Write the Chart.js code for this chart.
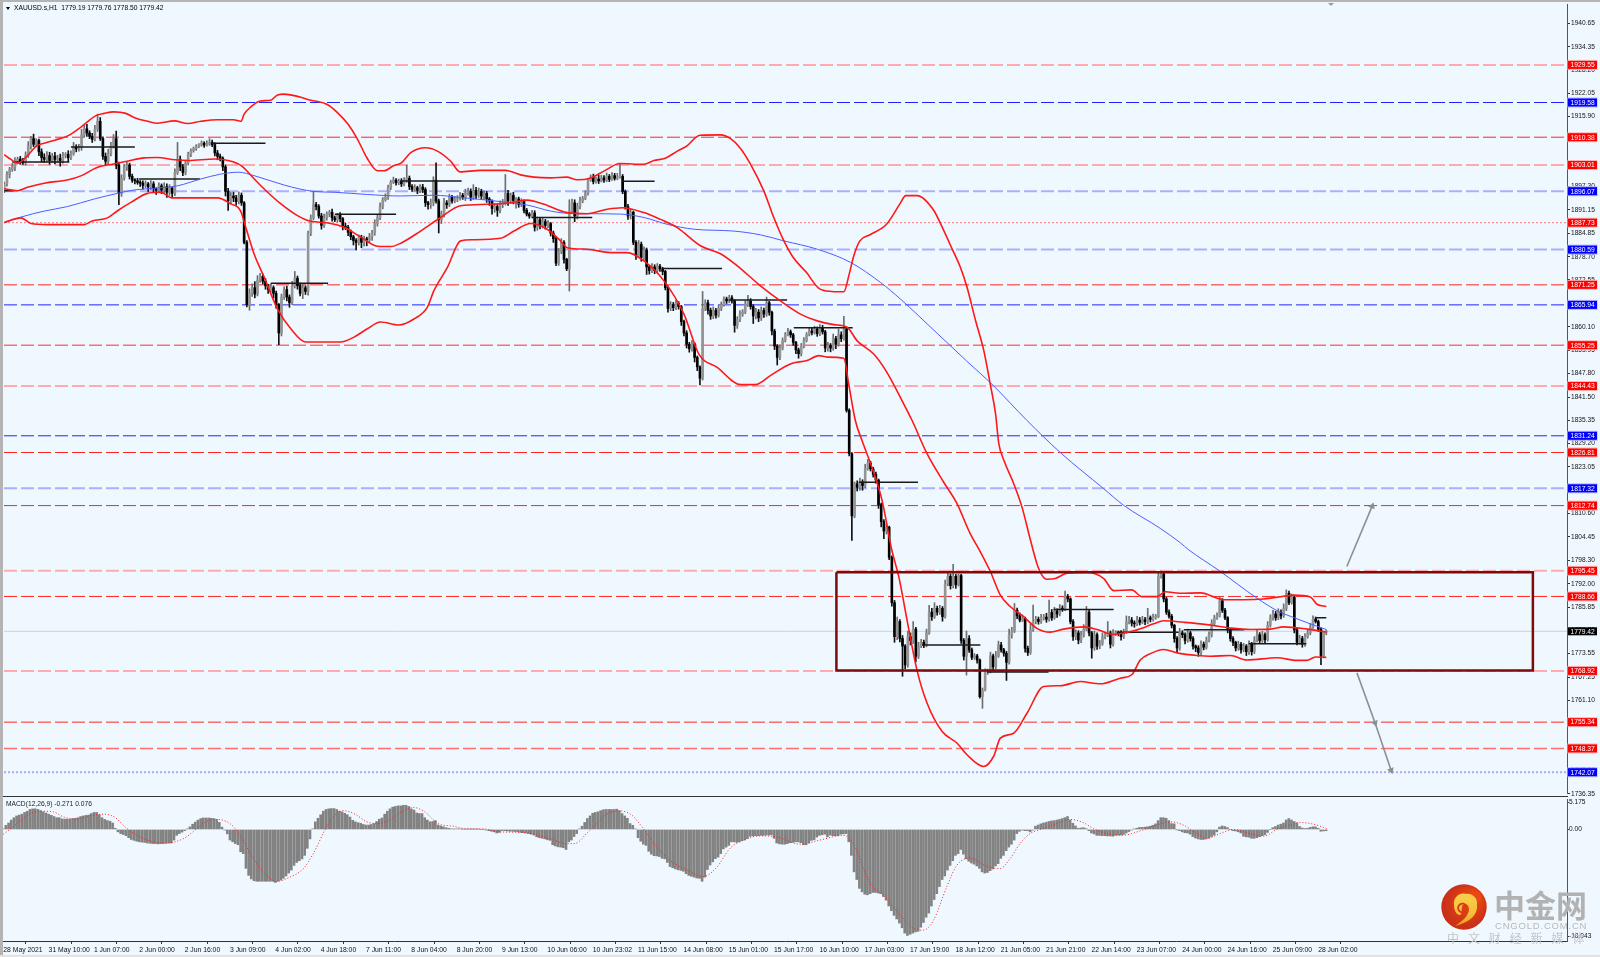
<!DOCTYPE html>
<html>
<head>
<meta charset="utf-8">
<title>XAUUSD.s,H1</title>
<script src="https://cdn.jsdelivr.net/npm/chart.js@4"></script>
<style>
  html, body { margin: 0; padding: 0; background: #f0f8ff; overflow: hidden; }
  body { width: 1600px; height: 957px; position: relative; }
  canvas { position: absolute; left: 0; }
  #priceChart { top: 0; }
  #macdChart { top: 797px; }
  .edge { position: absolute; background: #b4b4b4; }
  #edgeTop { left: 0; top: 0; width: 1600px; height: 2px; }
  #edgeLeft { left: 0; top: 0; width: 3px; height: 957px; }
  #edgeBottom { left: 0; top: 955px; width: 1600px; height: 2px; background: #e2e2e2; }
</style>
</head>
<body>
<canvas id="priceChart" width="1600" height="797"></canvas>
<canvas id="macdChart" width="1600" height="160"></canvas>
<div class="edge" id="edgeTop"></div>
<div class="edge" id="edgeLeft"></div>
<div class="edge" id="edgeBottom"></div>
<script>
const header = 'XAUUSD.s,H1  1779.19 1779.76 1778.50 1779.42';
const macdTitle = 'MACD(12,26,9) -0.271 0.076';

// hourly closes, one per bar
const closes = [
  1898.0,1900.5,1901.8,1902.5,1904.0,1904.6,1904.0,1903.6,1905.5,1908.0,
  1910.0,1908.5,1909.5,1906.5,1905.0,1904.5,1905.5,1904.2,1905.4,1904.5,
  1904.8,1904.2,1905.5,1905.8,1904.9,1906.0,1907.8,1907.3,1907.6,1911.0,
  1912.6,1911.5,1910.6,1909.8,1912.5,1914.6,1910.0,1905.3,1904.0,1906.0,
  1908.0,1910.0,1903.0,1895.5,1899.5,1902.5,1903.0,1900.0,1899.0,1898.8,
  1898.4,1898.2,1897.6,1898.0,1897.2,1898.0,1896.7,1896.3,1897.5,1896.4,
  1897.3,1895.8,1896.9,1895.5,1901.0,1904.5,1902.5,1901.0,1903.5,1905.8,
  1906.8,1907.4,1907.9,1908.4,1908.8,1908.3,1908.6,1909.0,1908.4,1906.2,
  1905.3,1904.8,1902.5,1896.0,1893.5,1894.8,1894.3,1893.3,1895.0,1893.0,
  1882.5,1866.0,1869.0,1870.5,1868.8,1872.5,1873.5,1872.2,1871.0,1870.0,
  1870.5,1869.0,1866.0,1858.5,1868.0,1870.0,1868.0,1866.5,1871.0,1873.0,
  1871.0,1869.0,1870.5,1869.5,1885.0,1889.0,1892.5,1892.0,1889.5,1887.0,
  1889.0,1890.0,1890.5,1889.0,1888.5,1889.8,1888.8,1886.8,1886.5,1885.2,
  1884.0,1883.0,1882.5,1883.8,1882.5,1883.4,1883.2,1884.0,1885.0,1887.5,
  1889.0,1892.0,1893.8,1894.5,1897.0,1898.5,1899.0,1898.3,1898.8,1898.0,
  1899.0,1899.5,1897.3,1896.6,1897.0,1896.3,1897.2,1896.5,1893.0,1892.5,
  1893.0,1899.0,1893.5,1888.5,1890.0,1893.0,1892.5,1894.5,1893.5,1894.0,
  1894.3,1895.0,1894.4,1895.6,1896.0,1894.5,1896.3,1895.0,1896.0,1894.8,
  1895.5,1894.0,1893.5,1891.5,1892.0,1891.0,1892.5,1893.0,1895.5,1893.5,
  1895.0,1893.6,1894.0,1892.6,1893.5,1891.0,1890.0,1889.5,1890.3,1886.5,
  1888.5,1887.0,1888.0,1887.0,1887.5,1885.0,1883.5,1877.0,1880.0,1882.5,
  1878.0,1875.5,1890.8,1893.0,1889.5,1892.0,1893.5,1894.2,1895.5,1899.0,
  1899.8,1898.6,1899.3,1898.8,1899.6,1899.0,1900.0,1899.2,1900.2,1899.5,
  1899.8,1900.0,1896.0,1892.0,1889.5,1890.5,1882.5,1879.0,1882.0,1878.5,
  1880.5,1876.0,1875.0,1876.0,1875.0,1876.2,1875.5,1874.8,1870.5,1865.0,
  1866.0,1865.2,1866.3,1865.5,1861.5,1858.5,1855.5,1854.3,1855.6,1852.0,
  1849.5,1846.5,1865.0,1866.5,1864.5,1863.0,1864.5,1863.2,1865.0,1866.0,
  1867.5,1867.0,1867.8,1867.0,1860.5,1862.0,1863.5,1864.0,1866.0,1867.0,
  1865.5,1863.0,1864.0,1862.5,1864.5,1863.5,1866.5,1864.0,1859.0,1855.0,
  1852.0,1854.5,1856.5,1858.0,1858.8,1858.0,1856.0,1854.0,1853.0,1855.0,
  1856.5,1858.0,1859.0,1858.6,1859.5,1858.3,1859.8,1858.8,1854.5,1855.2,
  1854.5,1857.0,1855.5,1858.0,1857.0,1859.5,1838.0,1826.5,1810.0,1818.5,
  1817.6,1819.0,1818.0,1822.5,1824.0,1822.5,1821.0,1819.5,1813.0,1808.5,
  1806.0,1807.0,1799.0,1787.0,1778.0,1782.0,1777.5,1775.5,1770.5,1778.0,
  1777.0,1780.0,1772.8,1775.5,1776.5,1775.8,1779.0,1784.5,1783.3,1785.5,
  1784.5,1785.5,1783.3,1792.0,1794.0,1791.5,1794.0,1791.8,1794.2,1777.0,
  1772.8,1777.5,1774.5,1772.5,1772.9,1771.8,1762.1,1763.9,1768.5,1768.8,
  1772.9,1770.0,1772.9,1775.8,1774.5,1773.6,1771.2,1778.5,1779.5,1785.0,
  1783.5,1782.4,1782.9,1774.9,1773.8,1779.8,1782.0,1782.6,1782.0,1783.0,
  1783.2,1782.6,1784.4,1783.0,1784.8,1784.0,1785.5,1785.3,1788.6,1788.0,
  1782.0,1778.0,1779.0,1777.1,1778.4,1780.0,1784.5,1779.0,1775.0,1778.5,
  1775.5,1776.2,1778.0,1778.4,1779.0,1776.0,1778.9,1779.0,1778.9,1778.0,
  1779.2,1782.0,1782.4,1781.6,1781.4,1782.4,1781.8,1782.5,1782.0,1783.0,
  1782.6,1783.2,1783.3,1794.0,1794.6,1788.0,1784.5,1783.4,1781.0,1777.5,
  1775.0,1779.0,1778.5,1777.0,1779.0,1777.5,1775.5,1775.0,1773.8,1776.0,
  1775.2,1777.0,1778.5,1781.5,1783.0,1783.5,1787.5,1785.0,1783.0,1779.8,
  1777.5,1776.5,1775.0,1776.0,1774.5,1775.5,1774.0,1776.0,1774.0,1777.0,
  1778.5,1777.0,1778.5,1777.2,1781.0,1783.0,1784.0,1783.0,1784.5,1783.5,
  1785.5,1789.5,1787.0,1788.5,1779.8,1776.5,1777.5,1776.0,1778.0,1779.0,
  1780.5,1782.7,1782.0,1780.0,1772.8,1779.19,1779.42
];
const firstOpen = 1896.5;

// wick lengths above and below each candle body
const upWicks = [
  .5,.8,.6,.9,1.0,.5,.7,.8,1.0,1.2, .6,1.2,.5,.4,.8,1.0,1.1,.9,.7,1.0,
  .8,1.1,.9,.5,1.0,.8,1.2,.6,.9,1.5, .9,1.2,.6,.8,1.0,1.9,1.0,.5,.9,1.2,
  1.0,1.1,2.0,.8,.9,.6,.7,.5,.6,.4, .7,.5,.6,.8,.4,.9,.6,.3,.8,.5,
  1.0,.7,.9,.3,1.0,4.5,.9,.7,.8,.6, .5,.4,.5,.3,.6,.4,.8,1.0,.6,.5,
  .7,.6,.4,.5,.8,.9,1.0,.7,.9,.6, .3,.5,1.2,1.0,1.6,1.2,.8,.6,.7,.4,
  1.0,.5,.6,.3,.8,.7,.9,.6,1.2,1.8, .6,.7,.8,.5,.5,.8,3.5,.6,.5,.7,
  1.0,.6,.5,.8,.5,.4,.6,.3,.8,.5, .6,.4,.5,.7,.6,.8,.5,.9,.7,1.0,
  .8,1.0,.6,.9,.7,.5,.8,.4,.5,.6, .7,3.5,.6,.5,.8,.4,.6,.7,.5,.4,
  1.0,.9,4.6,.5,.8,1.2,.6,.8,.5,.7, .6,.8,.5,1.0,.9,.7,1.5,.8,.9,.6,
  .7,.5,.4,.3,.8,.6,1.0,.9,5.0,.8, .6,.8,.4,.5,.6,.3,.5,.4,.7,.6,
  .7,.5,.9,.6,.8,.3,.5,.4,.9,1.0, .5,.3,3.0,1.0,.8,.9,1.0,.5,.7,.5,
  .6,.8,.5,1.0,.7,.6,.9,.5,.8,.6, 1.0,3.2,.5,.4,.6,.8,.3,.5,1.0,.6,
  .8,.5,.4,.9,.6,.7,.5,.4,.3,.5, .8,.6,.9,.5,.3,.4,.6,.5,.9,.3,
  .4,.3,4.5,.8,.7,.6,.9,.5,.8,.7, .6,.5,.7,.6,.3,.8,.9,.7,1.0,1.5,
  .6,.5,1.0,.7,.9,.6,1.5,.4,.3,.5, .4,.8,.7,.6,.9,.5,.4,.3,.5,.7,
  .8,.6,1.0,.7,.8,.6,.9,.7,.4,.8, .5,1.2,.6,1.5,.8,3.4,.3,.4,.3,.5,
  .8,1.0,.6,1.2,1.0,.5,.4,.6,.3,.4, .5,.8,.3,.4,.6,1.2,.5,.8,.4,1.5,
  1.0,2.0,.5,1.0,.8,.6,1.0,1.8,1.0,1.5, .6,.8,.5,1.0,.9,.6,3.2,.5,.4,.3,
  .5,2.0,.8,.5,.6,.4,.3,.5,1.0,.6, 1.0,.5,1.2,1.0,.7,.4,.5,1.5,1.0,1.8,
  .6,.8,.9,.3,.6,1.5,4.4,.8,.6,.9, .7,1.0,3.3,.8,1.0,.6,1.0,.7,1.5,.6,
  .3,.5,.8,.6,1.0,1.2,1.5,.5,.4,1.0, .5,.8,1.0,.7,3.0,.5,1.0,.6,.5,.7,
  .8,1.5,1.0,.7,.6,1.0,.7,.9,.6,2.5, .5,.8,.6,1.0,.8,.5,.4,.6,.5,.3,
  .5,1.2,.6,.5,1.0,.4,.5,.3,.6,.9, .6,.9,.8,1.0,.7,.8,1.2,.6,.5,.3,
  .4,.5,.3,.8,.5,.7,.4,.9,.5,1.0, 1.2,.6,.9,.5,1.0,.8,1.0,.7,.9,.6,
  1.2,.9,.6,.8,.3,.5,.9,.6,.8,.7, 1.0,.8,.5,.4,.3,.2,.34
];
const downWicks = [
  .8,.6,.9,.5,1.0,.7,.8,.4,.6,.5, .8,.6,.7,1.0,1.2,.8,.6,1.0,.5,1.2,
  .9,1.5,.7,.6,1.0,.5,.4,.8,.6,.7, .5,.9,.6,.8,.4,.6,.5,.8,1.0,.7,
  .6,.5,1.0,3.0,.8,.5,.9,.7,.6,.8, .5,.9,1.0,.6,1.2,.7,.9,1.1,.6,1.0,
  .7,1.4,.8,1.2,.6,.5,1.0,.8,.6,.5, .6,.4,.5,.3,.4,.6,.3,.4,.5,.8,
  .9,.7,1.0,1.2,2.5,.8,1.0,.9,.6,.7, .4,.6,1.5,.8,1.0,.5,.6,.7,.9,1.0,
  .7,1.2,.9,3.1,.8,.6,1.0,1.2,.5,.6, .9,.7,1.4,.8,1.0,.7,.5,.9,.6,1.0,
  .5,.6,.7,.9,.5,.6,.8,1.0,.6,.9, .8,1.2,2.0,.7,1.4,1.0,1.6,.8,1.0,.6,
  .7,.5,.6,.4,.6,.5,.4,.6,.5,.7, .5,.6,.8,.6,.5,.9,.6,.8,1.0,1.2,
  1.0,.8,.6,3.5,1.0,.8,1.0,.5,.6,.5, .7,.6,.5,.8,.6,.9,.7,1.0,.6,.8,
  1.0,.9,1.2,1.5,1.0,1.6,.7,.8,.6,1.2, .7,.9,2.0,.8,.6,.7,.5,.6,.5,1.0,
  .8,.9,.7,1.0,.6,.8,1.0,.7,.6,.5, 1.0,.5,5.9,.5,1.5,.8,.6,.5,.4,.5,
  .3,.6,.4,.7,.3,.6,.4,.6,.3,.5, .4,.3,.6,.7,.9,.8,.6,1.0,.5,1.0,
  .8,2.0,.9,.5,.8,.6,.7,.9,.6,1.0, .6,.8,.5,.7,1.0,.8,1.0,.9,.6,1.2,
  1.0,1.8,.5,.6,1.0,.9,.7,.8,.5,.6, .4,.7,.5,.6,1.8,.8,.5,.6,.4,.5,
  .7,2.0,.8,1.0,.7,.9,.6,.8,1.0,.9, 2.0,.6,.5,.4,.3,.7,.8,1.0,1.2,.6,
  .5,.4,.3,.6,.4,.7,.5,.6,1.0,.8, 1.0,.6,1.2,.5,.8,.4,.5,.6,6.5,.5,
  1.0,.8,1.2,.5,.4,.6,.7,.8,1.0,1.4, 2.0,.8,.6,.9,1.5,.8,.9,8.0,1.0,.6,
  1.2,.8,1.5,.6,.4,.7,.5,.4,1.0,.5, .8,.6,1.2,.4,.5,.9,.6,1.0,.4,.8,
  1.0,5.0,.7,.6,.5,.8,.4,3.1,.3,.5, .4,.8,.5,.4,.6,.8,4.8,.5,.9,.4,
  .7,.5,.4,1.0,.8,.5,.4,.6,.7,.5, .6,.8,.5,.7,.4,.9,.5,.6,.4,.8,
  .6,1.0,.8,1.0,.7,.5,.4,.8,2.7,.6, .9,.7,.5,.6,.4,1.0,.5,.6,.7,.9,
  .5,.4,.6,.8,.9,.5,.7,.4,.8,.6, .7,.5,.6,.3,.5,.8,.6,.5,.7,1.0,
  1.0,.6,.8,.9,.5,.7,.8,1.0,1.0,.6, .7,.5,.4,.6,.5,.4,.3,.6,.5,.8,
  .7,.9,.8,.6,.9,.5,1.0,.7,.9,.5, .4,.6,.5,.8,.4,.5,.6,.7,.5,.8,
  .4,.6,.5,.4,.8,.7,.5,.8,.6,.4, .5,.3,.4,.6,2.2,.4,.69
];

// Bollinger bands and moving average, read at bends of each curve
const upperBars = [0,2.5,5,8.75,12,15,19,24,29,34.4,37.5,41,45.6,49.4,53.8,57.5,63.8,68.8,73.8,80,86,88.8,90,92.5,96,100,102.5,105,110,115,121,125,129,132.5,136,140,142.5,146,149,152.5,158,162.5,167.5,171,178.7,188,193.7,198.7,205,211,215,220,225,231,240,243.7,248,252.5,256,261,268.7,272.5,276,280,285,288.7,292.5,296,301,305.5,310.5,315,317,318.7,321,325,331,336.2,338.2,342.5,348.8,351.3,355.6,358.7,361.2,364.4,367.5,370,371.9,373.1,375,378.7,381.8,385,387.4,389.3,391.2,394.3,398.7,406.2,412.5,416.2,423,426.8,432.5,435.6,441,448.8,457.5,465,472.5,480,483.8,490,492.5,496];
const upperBand = [1905.75,1904.5,1903.5,1905.5,1908,1908.8,1909.6,1910.8,1913.2,1916.1,1916.7,1917.1,1916.7,1915.4,1914.6,1914.1,1914.7,1914,1914.6,1915,1915,1914.6,1916.5,1918.4,1920,1920.2,1921.6,1921.8,1921.2,1920.2,1919.1,1916.9,1913.8,1909.9,1905,1901.5,1901.5,1902.8,1903.6,1906.3,1907.6,1906.7,1904,1901.2,1901.6,1901.6,1900.4,1899.8,1899.6,1899.8,1899.1,1899.6,1901.4,1903.4,1903.2,1904.2,1904.8,1906.7,1908,1910.9,1911,1910,1907.6,1903.2,1896.1,1889.1,1882.9,1878.5,1874.5,1870.4,1869.5,1869.4,1874.1,1878.9,1882.9,1884.6,1887.3,1892.9,1894.9,1894.9,1890.9,1887.4,1880.8,1875.9,1870.6,1861.8,1853.8,1844.6,1837.1,1829.3,1824.8,1818.6,1812.4,1803.6,1797.4,1794.3,1793.2,1793.4,1794.8,1795,1793.4,1790.2,1790.4,1788.6,1788.6,1789.9,1789.5,1789.6,1787.8,1787.8,1788,1788.7,1789,1788.5,1786.6,1786];

const middleBars = [0,5,8.75,15,24,29,35,41,46,52.5,57.5,64,69,79,84,89,93.8,98.8,103.8,110,115,121,127.5,133.8,140,145,148.8,156.2,163.7,171.2,181.2,190,196.2,202.5,211.2,218.7,226.2,231.8,240,246.2,252.5,261.2,268.7,275,283.7,291.2,298.7,305,311.2,316.2,320,326.2,331.2,336.2,340.6,346.2,352.4,357.4,362.4,366.2,370,373.7,377.4,382.4,387.4,392.4,397.4,405,410,416.2,425,431.2,435,442.5,451.2,460,467.5,475,480,488.8,496];
const middleBand = [1896.7,1896.2,1897.1,1898.2,1899.1,1900.2,1902.4,1903.3,1904,1904.9,1905,1904.4,1904.2,1904.6,1904.2,1902.8,1899.3,1895.8,1892.7,1889.6,1888.1,1887.7,1886.5,1883.9,1881.5,1881.4,1882.3,1885.5,1889.1,1892.2,1892.6,1893,1893.7,1892.6,1890.4,1890.1,1891.3,1891.7,1890.4,1888.6,1886.4,1881.6,1879.5,1876.3,1871,1867,1863.5,1861.7,1860.7,1860,1856.4,1852.9,1848,1841.4,1835.3,1826.5,1819,1813.3,1805.3,1800.5,1795.2,1789,1786,1783.3,1780.2,1779.2,1780,1780.6,1779.9,1778.6,1779.8,1781.4,1782.2,1781.8,1781.2,1780.3,1779.9,1780,1780.6,1780,1779.2];

const lowerBars = [0,6.25,10,16.2,30,33,38.7,42.5,47.5,53.7,58.7,63,80,85,88.7,90.6,93.7,97.5,102.5,107.5,113,126.2,131.2,136.2,141.2,148,153.7,158.7,161.2,166.2,171.2,175.6,186.2,191.2,197.5,203.7,208.7,211.2,218.7,227.5,233.7,240,247.5,255,260.6,267.5,276.2,281.8,287.4,294.9,301.2,305.6,308.7,315,316.8,319.3,321.8,325,329.3,333,335.6,338.7,342.4,346.2,351.8,357.4,361.2,367.4,371.2,373.7,378.7,383.7,390,396.2,403.7,411.2,418.7,423,426.2,430,435,440,447.5,452.5,460,466.2,477.5,485,488.7,491.9,496];
const lowerBand = [1887.8,1889,1887.5,1887.2,1887.2,1888.2,1889,1890.9,1893.1,1895.5,1895.8,1894.3,1894.3,1892.7,1890.8,1886.5,1879.5,1873.3,1864.9,1859.6,1856.1,1856.1,1857.4,1859.6,1861.4,1860.6,1862.2,1865.3,1869.7,1875.8,1882.9,1883.2,1883.6,1885.5,1887.5,1886,1882.9,1881.1,1880.7,1879.8,1879.8,1877.6,1872.3,1863.5,1852.9,1849.4,1844.8,1844.8,1847.2,1850.3,1851.2,1852.5,1852.1,1851.8,1845,1835.3,1830,1823.9,1814.2,1800.9,1793.9,1782.4,1769.2,1760.4,1752.9,1749.8,1746.7,1743.6,1746.3,1751.1,1752.4,1757.7,1764.8,1765,1766.1,1765.5,1767,1767.9,1771.8,1773.5,1774.6,1773.7,1773,1772.8,1773,1771.8,1772.4,1771.7,1771.7,1772.6,1772.5];

const maBars = [0,6.2,15,23.7,33.7,42.5,48.7,57.5,65,73.7,81.2,88,93.7,105,116.2,123.7,136.2,148.7,161.2,171.2,183.7,196.2,205,211.2,220,231.2,240,248.7,258.7,273.7,283.7,292.5,305,317.5,328.7,336.2,350,361,371,383.7,396.2,412.5,420,433.7,441.2,444.4,455.6,470,478,482.5,490,496];
const maValues = [1887.7,1889.2,1890.8,1892,1894,1895.5,1896.4,1896.9,1897.5,1899.3,1900.6,1901.1,1900.2,1897.7,1896,1895.8,1895.2,1894.8,1895,1894.4,1893.5,1892.4,1890.8,1890.2,1890.1,1890,1889.1,1887.3,1886,1885.5,1884.5,1882.9,1880.7,1877.2,1871.9,1867.5,1858.4,1851.1,1844.6,1835.3,1826.8,1817.2,1812.8,1806.7,1802.9,1801,1795.6,1788.2,1784.7,1783.4,1781.4,1779.9];

// short black price marks: first bar, last bar, price
const markStart = [0,3,25,50.6,77.5,100,124,148.7,198,231.8,247,271.8,296.2,320.6,344.3,368.7,393.7,417.4,442.5,466.9,491.9];
const markEnd = [3.5,24.4,49,73.4,98,121.5,147,171.6,220.6,244,269.3,293.7,318.3,342.8,366.2,391.8,416.2,440.6,465.2,488.5,496];
const markPrice = [1896.2,1903.8,1907.8,1899.3,1908.8,1871.7,1889.95,1898.8,1889.1,1898.7,1875.6,1867.2,1859.9,1818.9,1775.8,1768.6,1785.2,1779.2,1779.8,1776.1,1783];

// horizontal levels with their kinds
const levelPrices = [1929.55,1919.58,1910.38,1903.01,1896.07,1887.73,1880.59,1871.25,1865.94,1855.25,1844.43,1831.24,1826.81,1817.32,1812.74,1795.45,1788.66,1768.92,1755.34,1748.37,1742.07];
const levelKinds = ['pale','blue','red','pale','paleBlue','dotRed','paleBlue','red','blue','redLight','pale','blue','red','paleBlue','red','pale','red','pale','red','redLight','dotBlue'];
const lastPrice = 1779.42;

// range box and the two arrows
const boxBars = [312.2,573.5,573.5,312.2,312.2];
const boxPrices = [1795.1,1795.1,1769,1769,1795.1];
const arrowUpBars = [503.7,513.2];
const arrowUpPrices = [1796.6,1812.6];
const arrowDownBars = [507.5,514.3,520.3];
const arrowDownPrices = [1768.4,1755.1,1742.6];

const priceTicks = [1940.65,1934.35,1928.20,1922.05,1915.90,1909.60,1903.45,1897.30,1891.15,1884.85,1878.70,1872.55,1866.40,1860.10,1853.95,1847.80,1841.50,1835.35,1829.20,1823.05,1816.75,1810.60,1804.45,1798.30,1792.00,1785.85,1779.70,1773.55,1767.25,1761.10,1754.95,1748.80,1742.50,1736.35];
const timeLabels = ['28 May 2021','31 May 10:00','1 Jun 07:00','2 Jun 00:00','2 Jun 16:00','3 Jun 09:00','4 Jun 02:00','4 Jun 18:00','7 Jun 11:00','8 Jun 04:00','8 Jun 20:00','9 Jun 13:00','10 Jun 06:00','10 Jun 23:02','11 Jun 15:00','14 Jun 08:00','15 Jun 01:00','15 Jun 17:00','16 Jun 10:00','17 Jun 03:00','17 Jun 19:00','18 Jun 12:00','21 Jun 05:00','21 Jun 21:00','22 Jun 14:00','23 Jun 07:00','24 Jun 00:00','24 Jun 16:00','25 Jun 09:00','28 Jun 02:00'];
const timeBars = [0,17,34,51,68,85,102,119,136,153,170,187,204,221,238,255,272,289,306,323,340,357,374,391,408,425,442,459,476,493];

// MACD histogram, one per bar
const macdHist = [
  .1,.7,1.1,1.6,2.0,2.3,2.45,2.6,2.9,3.1, 3.4,3.5,3.5,3.4,3.2,3.0,2.8,2.6,2.4,2.2,
  2.0,2.0,1.8,1.75,1.75,1.75,1.85,1.9,2.0,2.2, 2.3,2.4,2.45,2.7,2.9,2.9,2.5,2.0,1.7,1.5,
  1.4,1.1,.2,-.4,-.7,-.85,-1.05,-1.4,-1.7,-1.85, -2.0,-2.1,-2.15,-2.2,-2.3,-2.35,-2.4,-2.4,-2.45,-2.4,
  -2.4,-2.35,-2.3,-2.3,-1.8,-1.0,-.7,-.45,-.2,.1, .45,.9,1.25,1.6,1.85,1.95,1.95,1.95,1.9,1.85,
  1.7,1.2,.4,-.1,-.75,-1.8,-2.1,-2.4,-2.6,-3.8, -4.1,-6.6,-7.8,-8.4,-8.7,-8.8,-8.8,-8.8,-8.8,-8.8,
  -8.8,-8.8,-9.0,-8.8,-8.6,-8.3,-7.9,-7.4,-6.9,-6.1, -5.6,-5.3,-5.0,-4.4,-3.2,-1.6,.1,1.3,1.9,2.5,
  3.1,3.4,3.5,3.55,3.55,3.4,3.1,3.0,2.75,2.5, 2.1,1.55,1.3,1.15,1.05,.85,.75,.75,.85,1.0,
  1.35,1.75,1.95,2.6,3.1,3.5,3.8,3.9,4.0,4.0, 4.1,4.1,3.9,3.5,3.3,2.8,2.7,2.7,2.0,1.6,
  1.3,1.35,1.5,.75,.6,.45,.3,.2,.1,.1, .1,.1,.05,.05,.05,.05,.05,.05,.05,0,
  0,-.1,-.2,-.3,-.4,-.6,-.5,-.2,-.2,-.25, -.3,-.3,-.35,-.4,-.5,-.55,-.6,-.7,-.8,-.95,
  -1.25,-1.4,-1.5,-1.6,-1.75,-1.85,-2.6,-2.8,-2.95,-3.0, -3.1,-3.4,-2.1,-1.8,-1.2,-.7,.1,.55,1.2,1.85,
  2.3,2.75,2.9,3.0,3.2,3.35,3.4,3.4,3.4,3.4, 3.45,3.2,2.7,2.3,1.9,1.0,.7,.1,-1.4,-2.0,
  -2.5,-2.7,-3.7,-4.2,-4.45,-4.5,-4.6,-4.9,-5.0,-5.6, -6.3,-6.5,-6.7,-6.85,-6.95,-7.1,-7.5,-7.8,-7.95,-8.1,
  -8.25,-8.3,-8.8,-8.1,-6.8,-6.05,-5.5,-4.95,-4.7,-4.1, -3.3,-3.0,-2.7,-2.1,-2.1,-2.2,-2.1,-1.9,-1.8,-1.55,
  -1.15,-1.1,-1.05,-1.05,-1.0,-1.0,-.95,-.95,-.9,-1.5, -2.3,-2.45,-2.5,-2.5,-2.4,-2.25,-2.2,-2.1,-2.1,-2.25,
  -2.6,-2.6,-2.3,-1.85,-1.75,-1.3,-1.0,-.9,-.8,-1.25, -.95,-1.05,-1.05,-1.05,-.8,-.75,-.7,-2.1,-4.4,-7.2,
  -8.5,-10,-10.6,-11,-11.1,-10.9,-10.7,-10.7,-10.8,-10.9, -11.4,-12,-13,-13.8,-14.6,-15.2,-15.9,-16.7,-17.6,-18,
  -17.8,-17.6,-17.4,-17.3,-16.6,-15.8,-14.9,-14.2,-13,-11.9, -10.9,-9.7,-8.5,-7.9,-6.9,-6.1,-5.3,-4.4,-4.1,-3.4,
  -4.2,-5.0,-5.4,-5.7,-5.9,-6.2,-6.6,-7.2,-7.4,-7.3, -7.0,-6.7,-6.2,-5.8,-4.9,-4.4,-3.6,-3.0,-2.5,-1.8,
  -.7,-.3,-.1,-.2,-.2,-.4,-.1,.55,.75,.95, 1.1,1.2,1.35,1.45,1.5,1.6,1.7,1.85,2.0,2.2,
  1.6,1.05,.6,.2,.25,.3,.15,-.2,-.6,-.75, -1.0,-1.0,-1.05,-1.05,-1.1,-1.1,-1.15,-1.0,-.95,-.95,
  -.85,-.6,-.35,-.1,.1,.2,.35,.35,.4,.45, .55,.7,.95,1.5,2.0,2.0,1.9,1.5,1.0,.95,
  -.05,-.2,-.4,-.55,-.6,-.8,-1.2,-1.45,-1.6,-1.7, -1.7,-1.6,-1.45,-1.2,-.95,-.4,.4,.6,.5,.3,
  0,-.2,-.25,-.4,-.6,-1.15,-1.25,-1.3,-1.5,-1.5, -1.4,-1.2,-1.05,-.9,-.5,0,.3,.5,.75,.9,
  1.1,1.6,1.85,1.6,1.35,1.1,.5,.25,.15,.2, .35,.45,.45,.2,-.3,-.25,-.2
];
const signalBars = [0,3.75,7.5,11.25,15,18.75,22.5,27.5,32.5,37.5,41.9,45.6,50,55,60,64.4,68.75,72.5,76.25,80,85,88.75,93,97.5,102.5,107.5,112.5,116.25,120.6,123.75,127.5,131.9,136.25,140,144.4,149.4,153.75,158,163,168.75,173.75,180,186.25,193.7,198.7,205,211.2,214.3,218.7,222.5,226.2,231.2,235.6,240,245,250,256.2,262.4,267.4,272.4,277.4,283.7,290,298.7,306.2,315,318.7,325,330,335,341.2,345,348.7,353.7,357.5,362.4,368.7,373.7,377.5,381.2,385,390,395,400,405,408.7,413.7,420,426.2,432.5,437.5,442.5,447.5,451.2,456.2,461.2,467.5,472.5,477.5,482.5,486.2,492.5,496.2];
const signalValues = [-.8,.45,1.9,2.9,3.1,3.0,2.15,1.75,2.3,2.6,2.05,.45,-.95,-1.95,-2.3,-2.1,-1.25,.15,1.4,1.7,1.0,-.95,-4.4,-7.25,-8.8,-8.1,-6.65,-4.1,-.1,2.15,3.2,2.6,1.3,1.0,1.5,3.0,3.75,3.0,1.0,.55,.1,.1,-.4,-.5,-.8,-1.55,-2.4,-2.4,-.7,1.0,2.6,3.15,2.45,.15,-3.0,-5.25,-6.85,-8.0,-6.5,-3.25,-1.8,-1.1,-1.25,-2.5,-1.8,-1.0,-2.4,-9.2,-11.2,-13.8,-16.75,-17.1,-15.5,-9.8,-6.1,-4.85,-6.25,-6.65,-4.95,-2.4,-.7,.15,1.0,1.7,1.15,.15,-.7,-.95,-.25,.75,1.3,.75,-.7,-1.55,-.7,0,-.7,-1.15,0,.75,1.2,.75,.15];
const macdTickBars = [4.65,0,-18.1];
const macdTickText = ['5.175','0.00','-18.943'];

// axis ranges
const barMin = -0.1, barMax = 586.3;
const priceMin = 1736.56, priceMax = 1945.69;
const macdMin = -18.943, macdMax = 5.175;

const tinyFont = { family: '"Liberation Sans", Arial, sans-serif', size: 6.6 };
const timeFont = { family: '"Liberation Sans", Arial, sans-serif', size: 6.8 };
const tinyCss = '6.7px "Liberation Sans", Arial, sans-serif';

const opens = closes.map((c, i) => i === 0 ? firstOpen : closes[i - 1]);
const barIndex = closes.map((c, i) => i);

const pairs = (xs, ys) => xs.map((x, k) => ({ x, y: ys[k] }));

const lineStyles = {
  red: { color: '#ff2424', width: 1, dash: [13, 4], tag: '#ff0000', halo: '#ffb4b4' },
  redLight: { color: '#ff6e6e', width: 1.5, dash: [13, 4], tag: '#ff0000', halo: '#ffb4b4' },
  pale: { color: '#ffaab0', width: 2, dash: [13, 4], tag: '#ff0000', halo: '#ffb4b4' },
  blue: { color: '#2222ff', width: 1, dash: [13, 4], tag: '#0000ff', halo: '#b4b4ff' },
  paleBlue: { color: '#aab0ff', width: 2, dash: [13, 4], tag: '#0000ff', halo: '#b4b4ff' },
  dotRed: { color: '#ff7a7a', width: 1, dash: [2, 2], tag: '#ff0000', halo: '#ffb4b4' },
  dotBlue: { color: '#a8a8ff', width: 2, dash: [2, 2], tag: '#0000ff', halo: '#b4b4ff' }
};

const levelDatasets = levelPrices.map((p, k) => ({
  type: 'line',
  data: [{ x: barMin, y: p }, { x: barMax, y: p }],
  borderColor: lineStyles[levelKinds[k]].color,
  borderWidth: lineStyles[levelKinds[k]].width,
  borderDash: lineStyles[levelKinds[k]].dash,
  pointRadius: 0,
  order: 8
}));

// one line with gaps between the price marks
const markPoints = [];
markStart.forEach((s, k) => {
  markPoints.push({ x: s, y: markPrice[k] }, { x: markEnd[k], y: markPrice[k] }, { x: markEnd[k] + 0.01, y: null });
});

function bandLine(bars, values, color, width, order) {
  return {
    type: 'line',
    data: pairs(bars, values),
    borderColor: color,
    borderWidth: width,
    pointRadius: 0,
    cubicInterpolationMode: 'monotone',
    order
  };
}

// tags on the right edge, header text and pane separator
const pricePanePlugin = {
  id: 'pricePane',
  afterDraw(chart) {
    const ctx = chart.ctx;
    const y = chart.scales.y;
    ctx.save();
    ctx.font = tinyCss;
    ctx.textBaseline = 'middle';

    levelPrices.forEach((p, k) => {
      const py = y.getPixelForValue(p);
      const style = lineStyles[levelKinds[k]];
      ctx.fillStyle = style.halo;
      ctx.fillRect(1567.5, py - 5, 30, 10);
      ctx.fillStyle = style.tag;
      ctx.fillRect(1568, py - 4, 29, 8);
      ctx.fillStyle = '#ffffff';
      ctx.fillText(p.toFixed(2), 1570.5, py + 0.5);
    });
    const ly = y.getPixelForValue(lastPrice);
    ctx.fillStyle = '#000000';
    ctx.fillRect(1568, ly - 4, 29, 8);
    ctx.fillStyle = '#ffffff';
    ctx.fillText(lastPrice.toFixed(2), 1570.5, ly + 0.5);

    ctx.fillStyle = '#000000';
    ctx.fillText(header, 14, 8.5);
    ctx.beginPath();
    ctx.moveTo(6, 7); ctx.lineTo(10, 7); ctx.lineTo(8, 10); ctx.closePath();
    ctx.fill();

    // small shift marker at the top
    ctx.fillStyle = '#9a9a9a';
    ctx.beginPath();
    ctx.moveTo(1328, 3); ctx.lineTo(1334, 3); ctx.lineTo(1331, 6); ctx.closePath();
    ctx.fill();

    ctx.fillStyle = '#333333';
    ctx.fillRect(3, 796, 1565, 2);
    ctx.restore();
  }
};

const macdPanePlugin = {
  id: 'macdPane',
  afterDraw(chart) {
    const ctx = chart.ctx;
    ctx.save();
    ctx.font = tinyCss;
    ctx.textBaseline = 'middle';
    ctx.fillStyle = '#222222';
    ctx.fillText(macdTitle, 6, 7.5);

    // watermark, in page coordinates
    ctx.translate(0, -797);
    const grad = ctx.createRadialGradient(1476, 896, 4, 1464, 907, 24);
    grad.addColorStop(0, '#ea4a10');
    grad.addColorStop(1, '#c62c1a');
    ctx.fillStyle = grad;
    ctx.beginPath();
    ctx.arc(1464, 907, 22.7, 0, Math.PI * 2);
    ctx.fill();

    // cloud swirl
    const gold = ctx.createLinearGradient(0, 893, 0, 926);
    gold.addColorStop(0, '#f9d24c');
    gold.addColorStop(0.65, '#f6bc3a');
    gold.addColorStop(1, '#ee9a1c');
    ctx.fillStyle = gold;
    ctx.beginPath();
    ctx.moveTo(1454, 905);
    ctx.bezierCurveTo(1453, 897, 1460, 892, 1466, 894);
    ctx.bezierCurveTo(1471, 893, 1478, 897, 1477, 905);
    ctx.bezierCurveTo(1478, 914, 1471, 922, 1455, 926);
    ctx.bezierCurveTo(1463, 921, 1469, 915, 1469, 909);
    ctx.bezierCurveTo(1469, 904, 1464, 903, 1462, 906);
    ctx.bezierCurveTo(1461, 911, 1463, 915, 1459, 915);
    ctx.bezierCurveTo(1456, 914, 1454, 910, 1454, 905);
    ctx.closePath();
    ctx.fill();
    ctx.strokeStyle = '#d8361a';
    ctx.lineWidth = 1.8;
    ctx.lineCap = 'round';
    ctx.beginPath();
    ctx.arc(1462.5, 908, 4.4, Math.PI * 0.55, Math.PI * 1.8);
    ctx.stroke();

    ctx.textBaseline = 'alphabetic';
    ctx.fillStyle = '#b2b2b2';
    ctx.font = 'bold 31px "Noto Sans CJK SC", sans-serif';
    ctx.fillText('中金网', 1494, 917);
    ctx.font = '9.5px "Liberation Sans", Arial, sans-serif';
    ctx.fillStyle = '#b8b8b8';
    ctx.letterSpacing = '0.8px';
    ctx.fillText('CNGOLD.COM.CN', 1495, 929);
    ctx.letterSpacing = '8.9px';
    ctx.font = '12px "Noto Sans CJK SC", sans-serif';
    ctx.fillStyle = '#c4c4c4';
    ctx.fillText('中文财经新媒体', 1447, 943);
    ctx.restore();
  }
};

new Chart(document.getElementById('priceChart'), {
  type: 'bar',
  data: {
    datasets: [
      ...levelDatasets,
      {
        type: 'line',
        data: [{ x: barMin, y: lastPrice }, { x: barMax, y: lastPrice }],
        borderColor: '#cfcfcf',
        borderWidth: 1,
        pointRadius: 0,
        order: 9
      },
      {
        data: barIndex.map(i => ({
          x: i,
          y: [Math.min(opens[i], closes[i]) - downWicks[i], Math.max(opens[i], closes[i]) + upWicks[i]]
        })),
        backgroundColor: barIndex.map(i => closes[i] >= opens[i] ? '#6e6e6e' : '#111111'),
        barThickness: 1,
        grouped: false,
        order: 7
      },
      {
        data: barIndex.map(i => ({ x: i, y: [opens[i], closes[i]] })),
        backgroundColor: barIndex.map(i => closes[i] >= opens[i] ? '#949494' : '#000000'),
        barThickness: 2,
        minBarLength: 1,
        grouped: false,
        order: 6
      },
      {
        type: 'line',
        data: markPoints,
        borderColor: '#1a1a1a',
        borderWidth: 1.5,
        pointRadius: 0,
        order: 5
      },
      bandLine(maBars, maValues, '#4c5cff', 1, 4),
      bandLine(upperBars, upperBand, '#ff1818', 1.6, 3),
      bandLine(middleBars, middleBand, '#ff1818', 1.6, 3),
      bandLine(lowerBars, lowerBand, '#ff1818', 1.6, 3),
      {
        type: 'line',
        data: pairs(boxBars, boxPrices),
        borderColor: '#7d0b0b',
        borderWidth: 2.5,
        pointRadius: 0,
        borderJoinStyle: 'miter',
        order: 2
      },
      {
        type: 'line',
        data: pairs(arrowUpBars, arrowUpPrices),
        borderColor: '#8f8f8f',
        borderWidth: 1.6,
        pointStyle: 'triangle',
        pointRadius: [0, 4],
        pointRotation: 22,
        pointBackgroundColor: '#8f8f8f',
        pointBorderWidth: 0,
        order: 1
      },
      {
        type: 'line',
        data: pairs(arrowDownBars, arrowDownPrices),
        borderColor: '#8f8f8f',
        borderWidth: 1.6,
        pointStyle: 'triangle',
        pointRadius: [0, 4, 4],
        pointRotation: 160,
        pointBackgroundColor: '#8f8f8f',
        pointBorderWidth: 0,
        order: 1
      }
    ]
  },
  options: {
    responsive: false,
    animation: false,
    events: [],
    layout: { padding: { left: 3, top: 3, right: 0, bottom: 1 } },
    plugins: { legend: { display: false }, tooltip: { enabled: false } },
    scales: {
      x: { type: 'linear', display: false, offset: false, min: barMin, max: barMax },
      y: {
        position: 'right',
        min: priceMin,
        max: priceMax,
        afterBuildTicks: s => { s.ticks = priceTicks.map(value => ({ value })); },
        afterFit: s => { s.width = 33; s.paddingTop = 0; s.paddingBottom = 0; },
        border: { color: '#555555', width: 1 },
        grid: { drawOnChartArea: false, drawTicks: true, tickLength: 3, color: '#333333' },
        ticks: {
          autoSkip: false,
          padding: 1,
          color: '#111111',
          font: tinyFont,
          callback: v => v.toFixed(2)
        }
      }
    }
  },
  plugins: [pricePanePlugin]
});

new Chart(document.getElementById('macdChart'), {
  type: 'bar',
  data: {
    datasets: [
      {
        data: pairs(barIndex, macdHist),
        backgroundColor: '#828282',
        barThickness: 2,
        order: 2
      },
      {
        type: 'line',
        data: pairs(signalBars, signalValues),
        borderColor: '#ff2020',
        borderWidth: 1,
        borderDash: [1, 2],
        pointRadius: 0,
        cubicInterpolationMode: 'monotone',
        order: 1
      }
    ]
  },
  options: {
    responsive: false,
    animation: false,
    events: [],
    layout: { padding: { left: 3, top: 2, right: 0, bottom: 0 } },
    plugins: { legend: { display: false }, tooltip: { enabled: false } },
    scales: {
      x: {
        type: 'linear',
        offset: false,
        min: barMin,
        max: barMax,
        afterBuildTicks: s => { s.ticks = timeBars.map(value => ({ value })); },
        afterFit: s => { s.height = 16; s.paddingLeft = 0; s.paddingRight = 0; },
        border: { color: '#333333', width: 1 },
        grid: { drawOnChartArea: false, drawTicks: true, tickLength: 3, color: '#333333' },
        ticks: {
          autoSkip: false,
          maxRotation: 0,
          align: 'start',
          padding: 2,
          color: '#111111',
          font: timeFont,
          callback: v => timeLabels[timeBars.indexOf(v)]
        }
      },
      y: {
        position: 'right',
        min: macdMin,
        max: macdMax,
        afterBuildTicks: s => { s.ticks = macdTickBars.map(value => ({ value })); },
        afterFit: s => { s.width = 33; s.paddingTop = 0; s.paddingBottom = 0; },
        border: { color: '#555555', width: 1 },
        grid: { drawOnChartArea: false, drawTicks: true, tickLength: 2, color: '#333333' },
        ticks: {
          autoSkip: false,
          padding: 0,
          color: '#111111',
          font: tinyFont,
          callback: v => macdTickText[macdTickBars.indexOf(v)]
        }
      }
    }
  },
  plugins: [macdPanePlugin]
});
</script>
</body>
</html>
